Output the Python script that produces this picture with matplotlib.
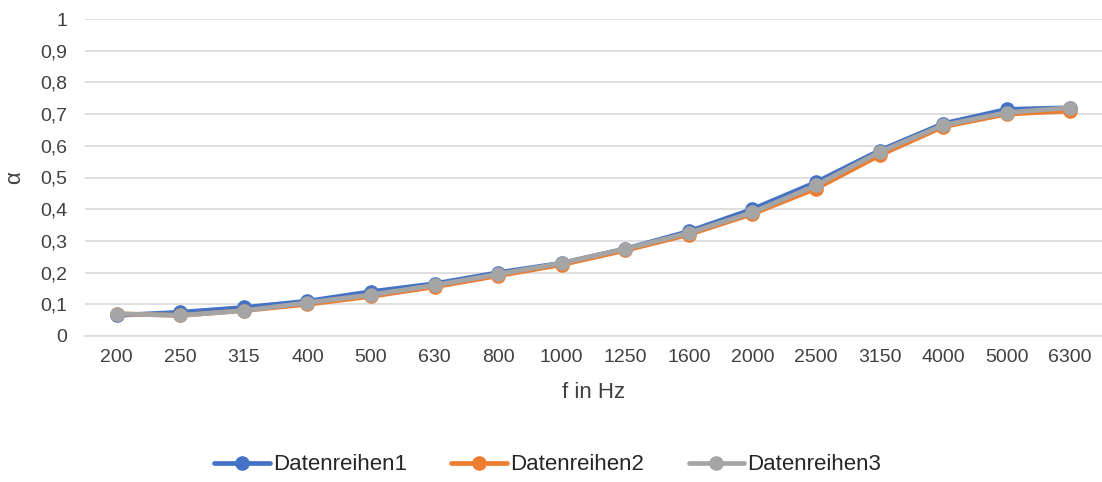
import matplotlib
matplotlib.use("Agg")
import matplotlib.pyplot as plt

freqs = ["200", "250", "315", "400", "500", "630", "800", "1000", "1250", "1600",
         "2000", "2500", "3150", "4000", "5000", "6300"]
series1 = [0.065, 0.075, 0.090, 0.110, 0.140, 0.165, 0.200, 0.230, 0.275, 0.330,
           0.400, 0.485, 0.585, 0.670, 0.715, 0.720]
series2 = [0.070, 0.065, 0.080, 0.100, 0.125, 0.155, 0.190, 0.225, 0.270, 0.320,
           0.385, 0.465, 0.570, 0.660, 0.700, 0.710]
series3 = [0.070, 0.065, 0.080, 0.105, 0.130, 0.160, 0.195, 0.230, 0.275, 0.325,
           0.390, 0.475, 0.580, 0.665, 0.705, 0.720]
names = ["Datenreihen1", "Datenreihen2", "Datenreihen3"]
colors = ["#4472C4", "#ED7D31", "#A5A5A5"]
yticks = [0, 0.1, 0.2, 0.3, 0.4, 0.5, 0.6, 0.7, 0.8, 0.9, 1.0]
ytick_labels = ["0", "0,1", "0,2", "0,3", "0,4", "0,5", "0,6", "0,7", "0,8", "0,9", "1"]

plt.rcParams['font.family'] = ['Liberation Sans', 'DejaVu Sans']

fig = plt.figure(figsize=(11.02, 4.82), dpi=100)
ax = fig.add_axes([85 / 1102, 1 - 336 / 482, (1102 - 85) / 1102, (336 - 19) / 482])

x = list(range(len(freqs)))
for ys, name, c in zip([series1, series2, series3], names, colors):
    ax.plot(x, ys, color=c, lw=3.4, marker='o', markersize=9.5, label=name,
            solid_joinstyle='round', solid_capstyle='round')

ax.set_xlim(-0.5, len(freqs) - 0.5)
ax.set_ylim(0, 1)
ax.set_yticks(yticks)
ax.set_yticklabels(ytick_labels)
ax.set_xticks(x)
ax.set_xticklabels(freqs)
ax.grid(axis='y', color='#D9D9D9', lw=1.2)
ax.set_axisbelow(True)
for s in ['top', 'right', 'left']:
    ax.spines[s].set_visible(False)
ax.spines['bottom'].set_color('#D9D9D9')
ax.spines['bottom'].set_linewidth(1.2)
ax.tick_params(axis='both', length=0, labelsize=14, colors='#404040')
ax.tick_params(axis='y', pad=13)
ax.tick_params(axis='x', pad=9)
ax.set_xlabel("f in Hz", fontsize=16, color='#404040', labelpad=12)
ax.set_ylabel("α", fontsize=16, color='#404040')
ax.yaxis.set_label_coords(-60 / 1017, 0.5)

fig.legend(loc='center', bbox_to_anchor=(0.497, 1 - 465 / 482), ncol=3, frameon=False,
           fontsize=16, handlelength=2.5, columnspacing=2.0, handletextpad=0.15,
           labelcolor='#262626')

fig.savefig("out.png", dpi=100)
